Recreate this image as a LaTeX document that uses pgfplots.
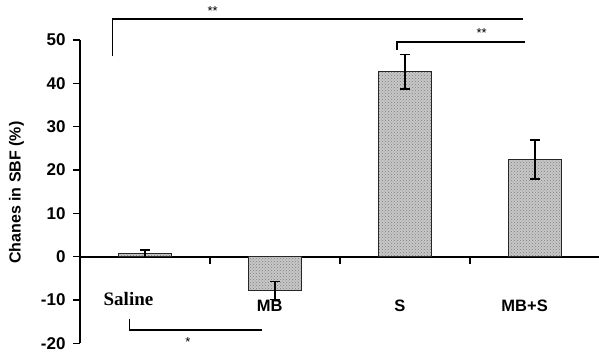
\documentclass[border=0pt]{standalone}
\usepackage{pgfplots}
\pgfplotsset{compat=1.18}
\usepackage{fontspec}
\setmainfont{Liberation Sans}
\newfontfamily\timesfont{Liberation Serif}
\usetikzlibrary{patterns}
\begin{document}
\begin{tikzpicture}
\useasboundingbox (-80pt,-12.7pt) rectangle (519pt,343.3pt);
\begin{axis}[
  at={(0,0)}, anchor=south west,
  scale only axis, width=519pt, height=303.3pt,
  xmin=-0.5, xmax=3.4923, ymin=-20, ymax=50,
  axis x line*=middle, axis y line*=left,
  axis line style={line width=1.8pt, -},
  xtick={0.5,1.5,2.5}, xticklabels={},
  ytick={-20,-10,0,10,20,30,40,50},
  tick align=outside, major tick length=7pt,
  tick style={line width=1.5pt, black},
  /pgf/number format/assume math mode=true,
  yticklabel style={font=\bfseries\fontsize{17}{20}\selectfont, xshift=-4pt},
  clip=false,
]
\addplot[ybar, bar width=53pt, draw=black!85, line width=1.5pt,
  fill=black!22, postaction={pattern=crosshatch dots, pattern color=black!50},
  error bars/.cd, y dir=both, y explicit,
  error bar style={line width=1.6pt, black},
  error mark options={rotate=90, mark size=5pt, line width=1.6pt, black}]
  coordinates {(0,0.7) +- (0,0.9) (1,-7.8) +- (0,2.1) (2,42.7) +- (0,4.0) (3,22.4) +- (0,4.5)};
\draw[line width=1.7pt] (axis cs:-0.25,46.2) -- (axis cs:-0.25,54.8) -- (axis cs:2.91,54.8);
\node[font=\fontsize{13}{15}\selectfont] at (axis cs:0.52,56.6) {**};
\draw[line width=1.7pt] (axis cs:1.94,47.8) -- (axis cs:1.94,49.6) -- (axis cs:2.92,49.6);
\node[font=\fontsize{13}{15}\selectfont] at (axis cs:2.59,51.7) {**};
\draw[line width=1.7pt] (axis cs:-0.12,-14.35) -- (axis cs:-0.12,-17.0) -- (axis cs:0.90,-17.0);
\node[font=\fontsize{13}{15}\selectfont] at (axis cs:0.33,-19.8) {*};
\node[font=\timesfont\bfseries\fontsize{19}{22}\selectfont] at (axis cs:-0.127,-9.7) {Saline};
\node[font=\bfseries\fontsize{16.5}{19}\selectfont] at (axis cs:0.96,-11.3) {MB};
\node[font=\bfseries\fontsize{16.5}{19}\selectfont] at (axis cs:1.96,-11.3) {S};
\node[font=\bfseries\fontsize{16.5}{19}\selectfont] at (axis cs:2.92,-11.3) {MB+S};
\node[rotate=90, font=\bfseries\fontsize{16}{19}\selectfont] at ([xshift=-63.5pt, yshift=-1pt]axis description cs:0,0.5) {Chanes in SBF (\%)};
\end{axis}
\end{tikzpicture}
\end{document}
